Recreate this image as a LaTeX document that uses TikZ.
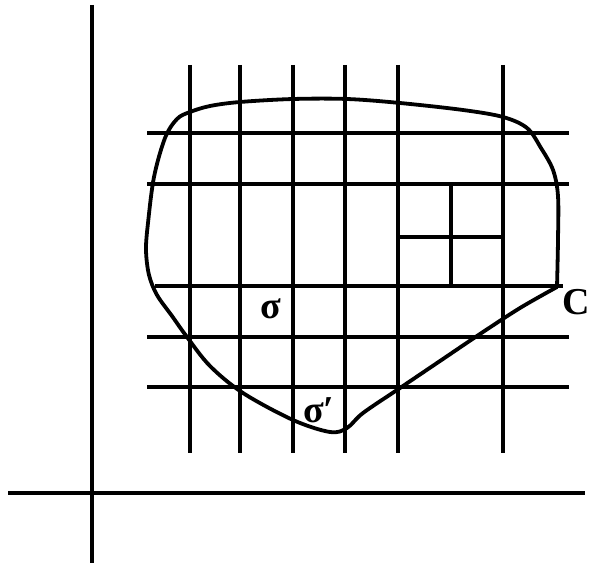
\documentclass[tikz,border=0pt]{standalone}
\usepackage{fontspec}
\setmainfont{Liberation Serif}
\begin{document}
\begin{tikzpicture}[x=1pt,y=-1pt,
  ln/.style={line width=4pt},
  crv/.style={line width=3.8pt,line join=round,line cap=round},
  lbl/.style={inner sep=0pt,anchor=base,font=\fontsize{38}{40}\selectfont\bfseries}]
\useasboundingbox (0,0) rectangle (592,567);
% axes
\draw[ln] (92,5) -- (92,563);
\draw[ln] (8,493) -- (585,493);
% vertical grid lines
\foreach \x in {190,240,293,345,398,503}
  \draw[ln] (\x,65) -- (\x,453);
% horizontal grid lines
\foreach \y in {133,184,337,387}
  \draw[ln] (147,\y) -- (569,\y);
\draw[ln] (155,286) -- (563,286);
% small subdivided squares
\draw[ln] (451,184) -- (451,286);
\draw[ln] (398,237) -- (503,237);
% curve C
\draw[crv] plot[smooth,tension=0.55] coordinates {
 (557,287) (558,240) (558,196) (553,170) (541,148) (527,128) (503,117)
 (463,110) (400,103) (347,99) (293,99) (240,102) (210,106) (190,112)
 (177,119) (165,138) (154,177) (148,223) (146,250) (149,275) (157,295)
 (172,316) (187,337) (210,366) (243,393) (293,420) (330,432) (347,428)
 (363,413) (400,388) (440,361) (480,334) (520,308) (557,287)};
% labels
\node[lbl] (s) at (271,318) {σ};
\node[lbl,anchor=base west] (sp) at (303,422) {σ′};
\node[lbl,anchor=base west] (c) at (562,314) {C};
\end{tikzpicture}
\end{document}
